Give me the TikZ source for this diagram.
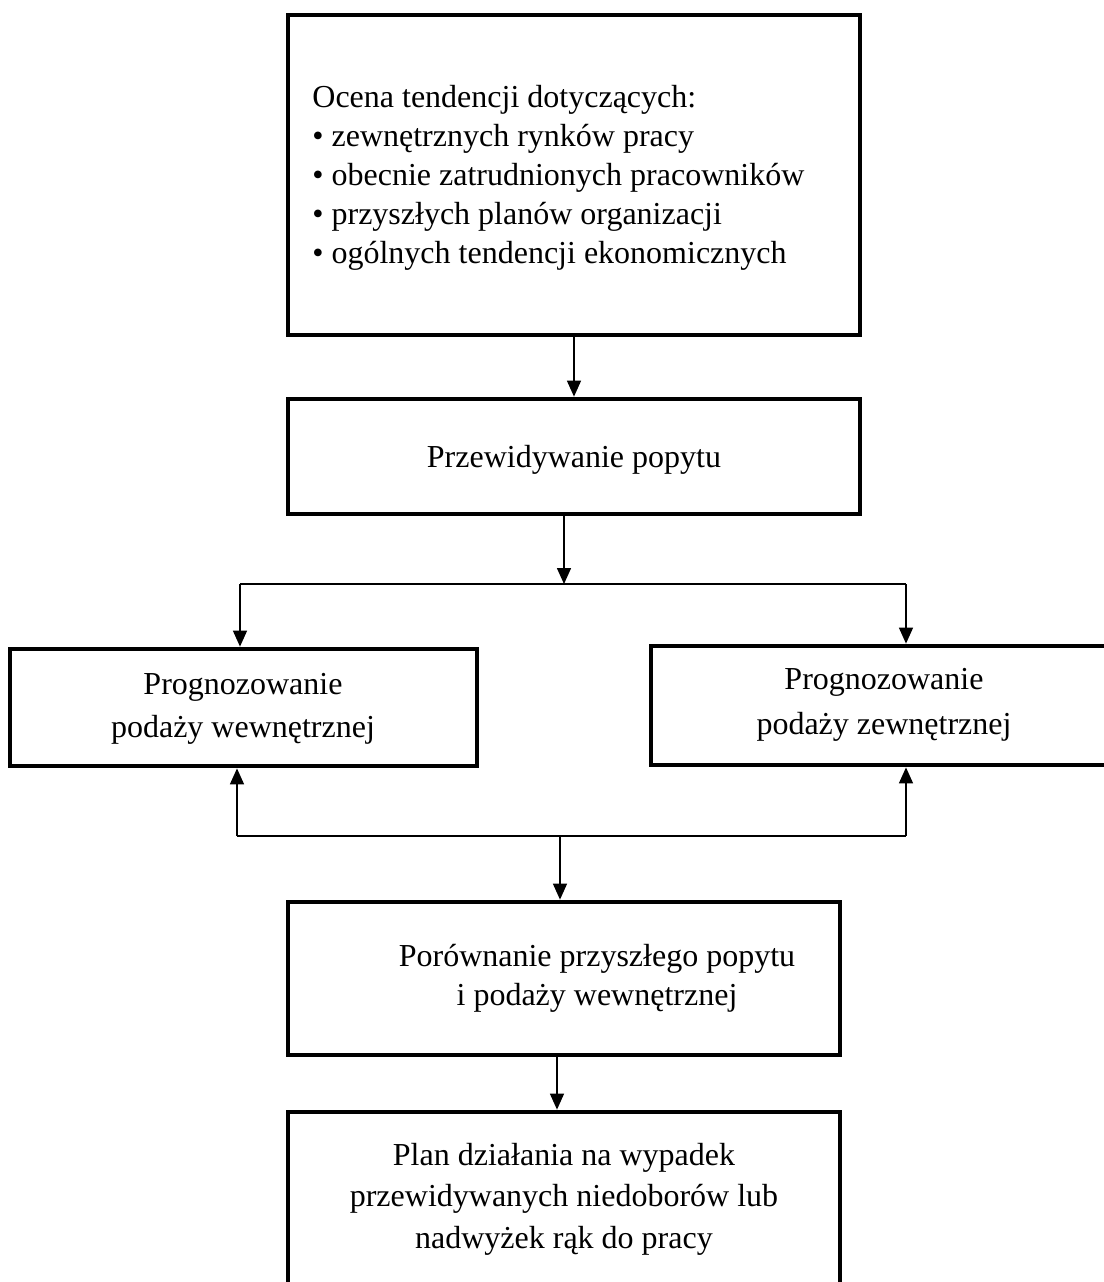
\documentclass[tikz,border=0pt]{standalone}
\usepackage{fontspec}
\setmainfont{Liberation Serif}
\usetikzlibrary{arrows.meta}
\begin{document}
\begin{tikzpicture}[x=0.5pt,y=-0.5pt,
  box/.style={draw, line width=2.4pt, rectangle, inner sep=0pt},
  txt/.style={font=\fontsize{16}{19.5}\selectfont, inner sep=0pt},
  conn/.style={line width=0.75pt},
  arr/.style={conn, -{Triangle[length=8pt,width=7pt]}}]
\useasboundingbox (0,0) rectangle (1104,1282);

% boxes
\node[box, minimum width=286pt, minimum height=160pt] (b1) at (574,175) {};
\node[box, minimum width=286pt, minimum height=57.5pt] (b2) at (574,456.5) {};
\node[box, minimum width=233.5pt, minimum height=58.5pt] (b3) at (243.5,707.5) {};
\node[box, minimum width=233.5pt, minimum height=59.5pt] (b4) at (884.5,705.5) {};
\node[box, minimum width=276pt, minimum height=76.5pt] (b5) at (564,978.5) {};
\node[box, minimum width=276pt, minimum height=90pt] (b6) at (564,1202) {};

% texts
\node[txt, anchor=west, align=left] (t1) at (312,178) {Ocena tendencji dotyczących:\\
• zewnętrznych rynków pracy\\
• obecnie zatrudnionych pracowników\\
• przyszłych planów organizacji\\
• ogólnych tendencji ekonomicznych};
\node[txt] (t2) at (574,460) {Przewidywanie popytu};
\node[txt, align=center, font=\fontsize{16}{21.5}\selectfont] (t3) at (243,709) {Prognozowanie\\podaży wewnętrznej};
\node[txt, align=center, font=\fontsize{16}{22.5}\selectfont] (t4) at (884,705) {Prognozowanie\\podaży zewnętrznej};
\node[txt, align=center] (t5) at (597,978) {Porównanie przyszłego popytu\\i podaży wewnętrznej};
\node[txt, align=center, font=\fontsize{16}{20.75}\selectfont] (t6) at (564,1199) {Plan działania na wypadek\\przewidywanych niedoborów lub\\nadwyżek rąk do pracy};

% junction points of the connector lines
\coordinate (s1) at (564,584);
\coordinate (sl) at (240,584);
\coordinate (sr) at (906,584);
\coordinate (jl) at (237,836);
\coordinate (jr) at (906,836);
\coordinate (jm) at (560,836);

% connectors
\draw[arr] (b1.south) -- (b2.north);
\draw[arr] (b2.south -| s1) -- (s1);
\draw[conn] (sl) -- (sr);
\draw[arr] (sl) -- (sl |- b3.north);
\draw[arr] (sr) -- (sr |- b4.north);
\draw[conn] (jl) -- (jr);
\draw[arr] (jl) -- (jl |- b3.south);
\draw[arr] (jr) -- (jr |- b4.south);
\draw[arr] (jm) -- (jm |- b5.north);
\draw[arr] ([xshift=-3.5pt]b5.south) -- ([xshift=-3.5pt]b6.north);
\end{tikzpicture}
\end{document}
